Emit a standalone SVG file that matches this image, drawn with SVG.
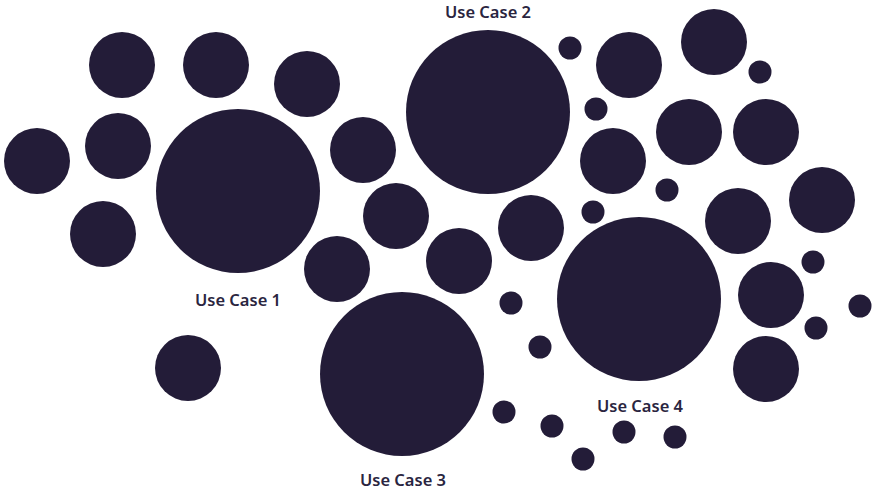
<svg xmlns="http://www.w3.org/2000/svg" width="875" height="491" viewBox="0 0 875 491">
<style>
circle{fill:#231c38}
.l{font-family:"Source Sans Pro","Noto Sans","Liberation Sans",sans-serif;font-weight:600;font-size:16.5px;fill:#2a2540;text-anchor:middle}
</style>
<rect width="875" height="491" fill="#ffffff"/>
<g id="large">
<circle cx="238" cy="191" r="82"/>
<circle cx="488" cy="112" r="82"/>
<circle cx="402" cy="374" r="82"/>
<circle cx="639" cy="299" r="82"/>
</g>
<g id="medium">
<circle cx="122" cy="65" r="33"/>
<circle cx="216" cy="65" r="33"/>
<circle cx="307" cy="84" r="33"/>
<circle cx="37" cy="161" r="33"/>
<circle cx="118" cy="146" r="33"/>
<circle cx="103" cy="234" r="33"/>
<circle cx="363" cy="150" r="33"/>
<circle cx="396" cy="216" r="33"/>
<circle cx="337" cy="269" r="33"/>
<circle cx="459" cy="261" r="33"/>
<circle cx="531" cy="228" r="33"/>
<circle cx="188" cy="368" r="33"/>
<circle cx="629" cy="65" r="33"/>
<circle cx="714" cy="42" r="33"/>
<circle cx="613" cy="161" r="33"/>
<circle cx="689" cy="132" r="33"/>
<circle cx="766" cy="132" r="33"/>
<circle cx="822" cy="200" r="33"/>
<circle cx="738" cy="221" r="33"/>
<circle cx="771" cy="295" r="33"/>
<circle cx="766" cy="369" r="33"/>
</g>
<g id="small">
<circle cx="570" cy="48" r="11.5"/>
<circle cx="760" cy="72" r="11.5"/>
<circle cx="596" cy="109" r="11.5"/>
<circle cx="667" cy="190" r="11.5"/>
<circle cx="593" cy="212" r="11.5"/>
<circle cx="813" cy="262" r="11.5"/>
<circle cx="860" cy="306" r="11.5"/>
<circle cx="816" cy="328" r="11.5"/>
<circle cx="511" cy="303" r="11.5"/>
<circle cx="540" cy="347" r="11.5"/>
<circle cx="504" cy="412" r="11.5"/>
<circle cx="552" cy="426" r="11.5"/>
<circle cx="624" cy="432" r="11.5"/>
<circle cx="675" cy="437" r="11.5"/>
<circle cx="583" cy="459" r="11.5"/>
</g>
<g id="labels">
<text class="l" x="238" y="306">Use Case 1</text>
<text class="l" x="488" y="18">Use Case 2</text>
<text class="l" x="403" y="486">Use Case 3</text>
<text class="l" x="640" y="412">Use Case 4</text>
</g>
</svg>
